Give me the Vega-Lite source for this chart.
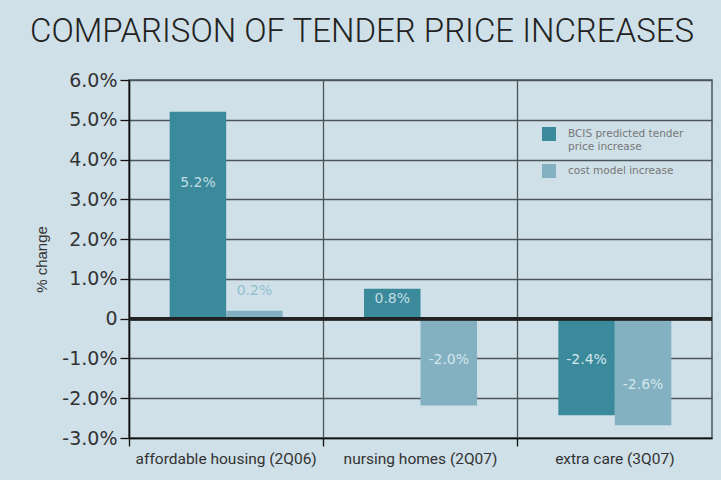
{
  "$schema": "https://vega.github.io/schema/vega-lite/v6.json",
  "width": 583,
  "height": 358,
  "autosize": "none",
  "padding": {"left": 129, "top": 80, "right": 9, "bottom": 42},
  "background": "#cfe0e8",
  "title": {
    "text": "COMPARISON OF TENDER PRICE INCREASES",
    "anchor": "start",
    "frame": "group",
    "dx": -99,
    "offset": 22,
    "fontSize": 33,
    "font": "Roboto",
    "fontWeight": 300,
    "color": "#222222"
  },
  "data": {
    "values": [
      {"category": "affordable housing (2Q06)", "series": "BCIS predicted tender price increase", "value": 5.2, "label": "5.2%"},
      {"category": "affordable housing (2Q06)", "series": "cost model increase", "value": 0.2, "label": "0.2%"},
      {"category": "nursing homes (2Q07)", "series": "BCIS predicted tender price increase", "value": 0.75, "label": "0.8%"},
      {"category": "nursing homes (2Q07)", "series": "cost model increase", "value": -2.18, "label": "-2.0%"},
      {"category": "extra care (3Q07)", "series": "BCIS predicted tender price increase", "value": -2.43, "label": "-2.4%"},
      {"category": "extra care (3Q07)", "series": "cost model increase", "value": -2.68, "label": "-2.6%"}
    ]
  },
  "layer": [
    {
      "mark": {"type": "bar", "cornerRadius": 0},
      "encoding": {
        "x": {
          "field": "category", "type": "nominal", "sort": null,
          "scale": {"paddingInner": 0, "paddingOuter": 0},
          "axis": {
            "title": null, "bandPosition": 0, "labelOffset": 0, "labelAngle": 0, "labelLimit": 300,
            "grid": true, "gridColor": "#4d5459", "gridWidth": 1.3,
            "domainColor": "#111111", "domainWidth": 1.5,
            "tickColor": "#111111", "tickSize": 8, "tickWidth": 1.3,
            "labelPadding": 5, "labelFont": "Roboto", "labelFontSize": 15.5, "labelColor": "#333333"
          }
        },
        "xOffset": {
          "field": "series", "type": "nominal",
          "scale": {"paddingOuter": 0.72, "paddingInner": 0}
        },
        "y": {
          "field": "value", "type": "quantitative",
          "scale": {"domain": [-3, 6], "nice": false, "zero": true},
          "axis": {
            "title": "% change",
            "values": [-3, -2, -1, 0, 1, 2, 3, 4, 5, 6],
            "tickCount": 12,
            "labelOverlap": false,
            "labelExpr": "datum.value == 0 ? '0' : (datum.value < 0 ? '-' : '') + format(abs(datum.value), '.1f') + '%'",
            "grid": true, "gridColor": "#4d5459", "gridWidth": 1.3,
            "domainColor": "#111111", "domainWidth": 1.5,
            "tickColor": "#111111", "tickSize": 9, "tickWidth": 1.3,
            "labelPadding": 3, "labelFont": "DejaVu Sans", "labelFontSize": 19, "labelColor": "#333333",
            "titleFont": "Liberation Sans", "titleFontSize": 15, "titleFontWeight": "normal",
            "titleColor": "#333333", "titlePadding": 12
          }
        },
        "color": {
          "field": "series", "type": "nominal",
          "scale": {"domain": ["BCIS predicted tender price increase", "cost model increase"], "range": ["#3a8a9b", "#83b1c1"]},
          "legend": {
            "title": null, "orient": "none", "legendX": 413, "legendY": 47,
            "symbolType": "square", "symbolSize": 196, "symbolStrokeWidth": 0, "symbolOpacity": 1,
            "labelFont": "DejaVu Sans", "labelFontSize": 10.5, "labelColor": "#777777",
            "labelOffset": 12, "labelBaseline": "top", "rowPadding": 12, "labelLimit": 200,
            "labelExpr": "datum.label == 'BCIS predicted tender price increase' ? ['BCIS predicted tender', 'price increase'] : datum.label",
            "encode": {"labels": {"update": {"dy": {"value": -5}}}}
          }
        }
      }
    },
    {
      "mark": {"type": "rule", "color": "#222222", "strokeWidth": 3},
      "encoding": {"y": {"datum": 0}}
    },
    {
      "transform": [{"filter": "datum.value > 1"}],
      "mark": {"type": "text", "font": "DejaVu Sans", "fontSize": 14, "color": "#c4dde5", "baseline": "middle", "dy": 71},
      "encoding": {
        "x": {"field": "category", "type": "nominal", "sort": null},
        "xOffset": {"field": "series", "type": "nominal"},
        "y": {"field": "value", "type": "quantitative"},
        "text": {"field": "label"}
      }
    },
    {
      "transform": [{"filter": "datum.value > 0 && datum.value < 0.5"}],
      "mark": {"type": "text", "font": "DejaVu Sans", "fontSize": 14, "color": "#8fbfcd", "baseline": "middle", "dy": -20},
      "encoding": {
        "x": {"field": "category", "type": "nominal", "sort": null},
        "xOffset": {"field": "series", "type": "nominal"},
        "y": {"field": "value", "type": "quantitative"},
        "text": {"field": "label"}
      }
    },
    {
      "transform": [{"filter": "datum.value > 0.5 && datum.value < 1"}],
      "mark": {"type": "text", "font": "DejaVu Sans", "fontSize": 14, "color": "#c4dde5", "baseline": "middle", "dy": 10},
      "encoding": {
        "x": {"field": "category", "type": "nominal", "sort": null},
        "xOffset": {"field": "series", "type": "nominal"},
        "y": {"field": "value", "type": "quantitative"},
        "text": {"field": "label"}
      }
    },
    {
      "transform": [{"filter": "datum.value < 0 && datum.value > -2.5"}],
      "mark": {"type": "text", "font": "DejaVu Sans", "fontSize": 14, "color": "#d2e6ec", "baseline": "middle", "dy": 41},
      "encoding": {
        "x": {"field": "category", "type": "nominal", "sort": null},
        "xOffset": {"field": "series", "type": "nominal"},
        "y": {"datum": 0},
        "text": {"field": "label"}
      }
    },
    {
      "transform": [{"filter": "datum.value < -2.5"}],
      "mark": {"type": "text", "font": "DejaVu Sans", "fontSize": 14, "color": "#d2e6ec", "baseline": "middle", "dy": -40},
      "encoding": {
        "x": {"field": "category", "type": "nominal", "sort": null},
        "xOffset": {"field": "series", "type": "nominal"},
        "y": {"field": "value", "type": "quantitative"},
        "text": {"field": "label"}
      }
    }
  ],
  "config": {
    "view": {"stroke": "#4d5459", "strokeWidth": 1.5}
  }
}
